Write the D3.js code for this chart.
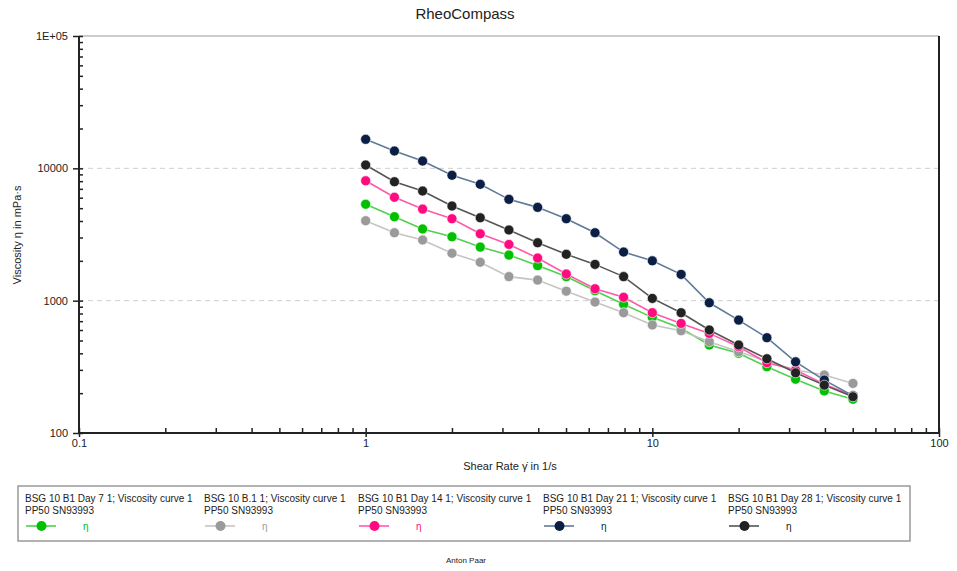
<!DOCTYPE html>
<html>
<head>
<meta charset="utf-8">
<script src="https://cdn.jsdelivr.net/npm/d3@7"></script>
<style>
  body { margin: 0; background: #fff; }
  svg { font-family: "Liberation Sans", Arial, sans-serif; }
  .domain { stroke: #222; stroke-width: 2; }
  .tick line { stroke: #222; stroke-width: 1.5; }
  .tick text { font-size: 11px; fill: #222; }
</style>
</head>
<body>
<div id="chart"></div>
<script>
// shear rate in 1/s
const shearRate = [1, 1.26, 1.58, 2, 2.51, 3.16, 3.98, 5.01, 6.31, 7.94, 10, 12.6, 15.8, 20, 25.1, 31.6, 39.8, 50.1];

// viscosity in mPa·s, one array per sample
const day7  = [5350, 4310, 3480, 3040, 2540, 2210, 1840, 1520, 1190, 938, 748, 618, 462, 400, 317, 255, 208, 180];
const b11   = [4020, 3260, 2870, 2280, 1950, 1520, 1430, 1180, 976, 811, 655, 593, 489, 411, 349, 299, 274, 237];
const day14 = [8050, 6040, 4920, 4160, 3200, 2660, 2100, 1590, 1230, 1060, 811, 673, 566, 449, 340, 299, 234, 191];
const day21 = [16560, 13520, 11350, 8860, 7570, 5830, 5070, 4160, 3260, 2330, 2000, 1580, 964, 713, 525, 345, 251, 191];
const day28 = [10590, 7920, 6740, 5190, 4230, 3420, 2740, 2240, 1880, 1520, 1040, 811, 600, 462, 364, 285, 230, 188];

const seriesNames = [
  "BSG 10 B1 Day 7 1; Viscosity curve 1",
  "BSG 10 B.1 1; Viscosity curve 1",
  "BSG 10 B1 Day 14 1; Viscosity curve 1",
  "BSG 10 B1 Day 21 1; Viscosity curve 1",
  "BSG 10 B1 Day 28 1; Viscosity curve 1"
];
const seriesSub = "PP50 SN93993";
const xTicks = [0.1, 1, 10, 100];
const yTicks = [100, 1000, 10000, 100000];
const yTickLabels = ["100", "1000", "10000", "1E+05"];

const markerColors = ["#00c000", "#9a9a9a", "#ff0a80", "#0b1f45", "#222222"];
const lineColors   = ["#4fd04f", "#c4c4c4", "#ff5aa8", "#5f7a99", "#555555"];

const seriesData = [day7, b11, day14, day21, day28];

const W = 957, H = 571;
const plotL = 79, plotR = 939, plotT = 36, plotB = 433;

const svg = d3.select("#chart").append("svg")
  .attr("width", W)
  .attr("height", H);

const x = d3.scaleLog().domain([0.1, 100]).range([plotL, plotR]);
const y = d3.scaleLog().domain([100, 100000]).range([plotB, plotT]);

// minor tick values per decade
const minorX = [];
xTicks.slice(0, -1).forEach(d => { for (let k = 1; k <= 9; k++) minorX.push(d * k); });
minorX.push(100);
const minorY = [];
yTicks.slice(0, -1).forEach(d => { for (let k = 1; k <= 9; k++) minorY.push(d * k); });
minorY.push(100000);

// title
svg.append("text")
  .attr("x", 465).attr("y", 19)
  .attr("text-anchor", "middle")
  .style("font-size", "15px").style("fill", "#222")
  .text("RheoCompass");

// grid
svg.append("g").selectAll("line")
  .data([1000, 10000])
  .enter().append("line")
    .attr("x1", plotL).attr("x2", plotR)
    .attr("y1", d => y(d)).attr("y2", d => y(d))
    .attr("stroke", "#cfcfcf")
    .attr("stroke-dasharray", "5,4");

// frame top + right
svg.append("line")
  .attr("x1", plotL).attr("x2", plotR).attr("y1", plotT).attr("y2", plotT)
  .attr("stroke", "#999").attr("stroke-width", 1.2);
svg.append("line")
  .attr("x1", plotR).attr("x2", plotR).attr("y1", plotT).attr("y2", plotB)
  .attr("stroke", "#222").attr("stroke-width", 2);

// x axis
svg.append("g")
  .attr("transform", `translate(0,${plotB})`)
  .call(d3.axisBottom(x).tickValues(xTicks).tickSize(4).tickPadding(2).tickFormat(d => d))
  .call(g => g.select(".domain").attr("d", `M${plotL},0H${plotR}`));
svg.append("g")
  .attr("transform", `translate(0,${plotB})`)
  .call(d3.axisTop(x).tickValues(minorX).tickSize(5).tickFormat(""))
  .call(g => g.select(".domain").remove());

// y axis
svg.append("g")
  .attr("transform", `translate(${plotL},0)`)
  .call(d3.axisLeft(y).tickValues(yTicks).tickSize(6).tickPadding(5)
    .tickFormat((d, i) => yTickLabels[i]))
  .call(g => g.select(".domain").attr("d", `M0,${plotT}V${plotB}`));
svg.append("g")
  .attr("transform", `translate(${plotL},0)`)
  .call(d3.axisRight(y).tickValues(minorY).tickSize(4).tickFormat(""))
  .call(g => g.select(".domain").remove());

// axis titles
svg.append("text")
  .attr("x", 510).attr("y", 470)
  .attr("text-anchor", "middle")
  .style("font-size", "11px").style("fill", "#222")
  .text("Shear Rate \u03B3\u0307 in 1/s");
svg.append("text")
  .attr("transform", "translate(21,235) rotate(-90)")
  .attr("text-anchor", "middle")
  .style("font-size", "11px").style("fill", "#222")
  .text("Viscosity  \u03B7  in mPa\u00B7s");

// series
const line = d3.line()
  .x((d, i) => x(shearRate[i]))
  .y(d => y(d));

seriesData.forEach((vals, s) => {
  const g = svg.append("g");
  g.append("path")
    .datum(vals)
    .attr("d", line)
    .attr("fill", "none")
    .attr("stroke", lineColors[s])
    .attr("stroke-width", 1.6);
  g.selectAll("circle")
    .data(vals)
    .enter().append("circle")
      .attr("cx", (d, i) => x(shearRate[i]))
      .attr("cy", d => y(d))
      .attr("r", 5)
      .attr("fill", markerColors[s])
      .attr("stroke", "#fff")
      .attr("stroke-opacity", 0.6)
      .attr("stroke-width", 1);
});

// legend
const legendX = [25, 204, 358, 543, 728];
svg.append("rect")
  .attr("x", 18).attr("y", 486)
  .attr("width", 892).attr("height", 55)
  .attr("fill", "#fff")
  .attr("stroke", "#999").attr("stroke-width", 1.5);

seriesNames.forEach((name, s) => {
  const g = svg.append("g").attr("transform", `translate(${legendX[s]},0)`);
  g.append("text")
    .attr("x", 0).attr("y", 502)
    .style("font-size", "10px").style("fill", "#222")
    .text(name);
  g.append("text")
    .attr("x", 0).attr("y", 514)
    .style("font-size", "10px").style("fill", "#222")
    .text(seriesSub);
  g.append("line")
    .attr("x1", 1).attr("x2", 31)
    .attr("y1", 526).attr("y2", 526)
    .attr("stroke", lineColors[s]).attr("stroke-width", 1.6);
  g.append("circle")
    .attr("cx", 16.5).attr("cy", 526).attr("r", 5)
    .attr("fill", markerColors[s]);
  g.append("text")
    .attr("x", 58).attr("y", 530)
    .style("font-size", "10px").style("fill", markerColors[s])
    .text("\u03B7");
});

svg.append("text")
  .attr("x", 466).attr("y", 563)
  .attr("text-anchor", "middle")
  .style("font-size", "8px").style("fill", "#222")
  .text("Anton Paar");
</script>
</body>
</html>
